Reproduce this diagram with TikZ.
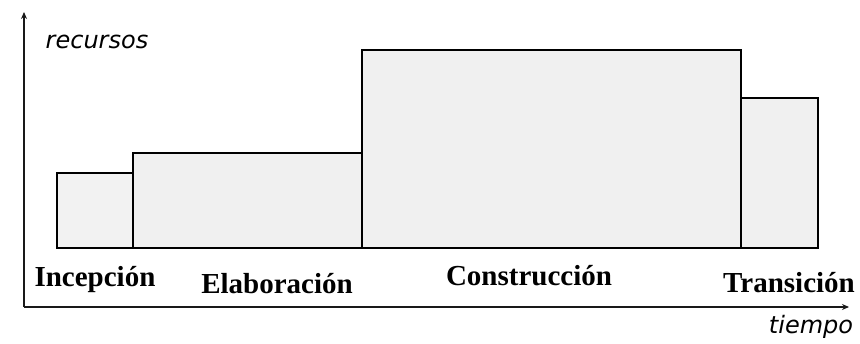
\documentclass[tikz,border=0pt]{standalone}
\usepackage{fontspec}
\setmainfont{Liberation Serif}
\newfontfamily\axisfont{DejaVu Sans}
\usetikzlibrary{arrows.meta}

\begin{document}
\begin{tikzpicture}[x=1pt, y=-1pt]

% estilos
\tikzstyle{phase}=[draw=black, line width=1.3pt, fill=black!6]
\tikzstyle{phaseIn}=[draw=black, line width=1.3pt, fill=black!5]
\tikzstyle{phaseLabel}=[text=black, font=\fontsize{29}{32}\selectfont\bfseries]
\tikzstyle{axisLabel}=[text=black, font=\fontsize{24}{28}\selectfont\axisfont\itshape]
\tikzstyle{axis}=[-{Stealth[length=7pt,width=6pt]}, line width=1.4pt, color=black!90]

\useasboundingbox (0,0) rectangle (860,343);

\coordinate (origin) at (24,307);
\coordinate (ytip) at (24,12);
\coordinate (xtip) at (849,307);

% fases
\draw[phaseIn] (57,248) rectangle (133,173);
\draw[phase] (133,248) rectangle (362,153);
\draw[phase] (362,248) rectangle (741,50);
\draw[phase] (741,248) rectangle (818,98);

\node[phaseLabel] (incep) at (95,280) {Incepción};
\node[phaseLabel] (elab) at (277,284) {Elaboración};
\node[phaseLabel] (constr) at (529,276) {Construcción};
\node[phaseLabel] (trans) at (789,283) {Transición};

% ejes
\draw[axis] (origin) -- (ytip);
\draw[axis] (origin) -- (xtip);
\node[axisLabel] (recursos) at (97,42) {recursos};
\node[axisLabel] (tiempo) at (811,327) {tiempo};

\end{tikzpicture}
\end{document}
